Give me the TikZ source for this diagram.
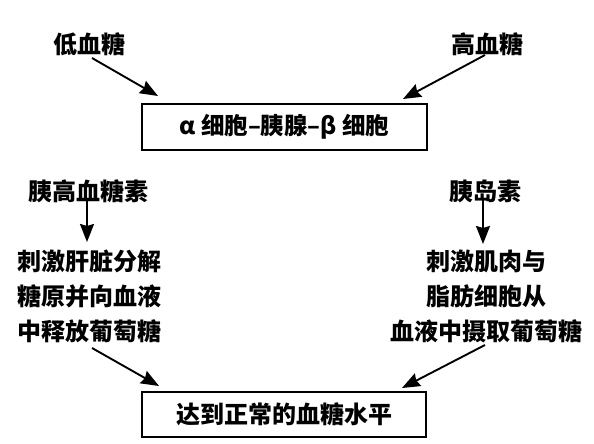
\documentclass[tikz,border=0pt]{standalone}
\usepackage{fontspec}
\setmainfont{Noto Sans CJK SC}
\usetikzlibrary{arrows.meta}
\begin{document}
\begin{tikzpicture}[x=1pt,y=-1pt,
  lbl/.style={inner sep=0pt, font=\fontsize{24}{35}\selectfont\bfseries},
  boxtxt/.style={draw, line width=1.8pt, inner sep=0pt},
  arr/.style={line width=1.9pt, -{Stealth[length=18pt,width=14pt,inset=2pt]}}]
\useasboundingbox (0,0) rectangle (594,444);
\fill[white] (0,0) rectangle (594,444);
\node[lbl] (lo) at (89.5,44) {低血糖};
\node[lbl] (hi) at (487.5,44) {高血糖};
\node[boxtxt, minimum width=285pt, minimum height=46pt, font=\fontsize{23.5}{26}\selectfont\bfseries] (cells) at (284.5,127) {α 细胞–胰腺–β 细胞};
\node[lbl] (gluc) at (88,191) {胰高血糖素};
\node[lbl] (ins) at (485,191) {胰岛素};
\node[lbl, align=center] (left) at (89.5,296) {刺激肝脏分解\\糖原并向血液\\中释放葡萄糖};
\node[lbl, align=center] (right) at (486,296) {刺激肌肉与\\脂肪细胞从\\血液中摄取葡萄糖};
\node[boxtxt, minimum width=284pt, minimum height=45pt, font=\fontsize{24}{28}\selectfont\bfseries] (norm) at (284,414.5) {达到正常的血糖水平};
\coordinate (a1s) at (92,58);  \coordinate (a1e) at (158,96);
\coordinate (a2s) at (485,55); \coordinate (a2e) at (403,99);
\coordinate (a3s) at (87,200); \coordinate (a3e) at (87,242);
\coordinate (a4s) at (483,200); \coordinate (a4e) at (483,244);
\coordinate (a5s) at (92,348); \coordinate (a5e) at (159,386);
\coordinate (a6s) at (485,345); \coordinate (a6e) at (402,388);
\draw[arr] (a1s) -- (a1e);
\draw[arr] (a2s) -- (a2e);
\draw[arr] (a3s) -- (a3e);
\draw[arr] (a4s) -- (a4e);
\draw[arr] (a5s) -- (a5e);
\draw[arr] (a6s) -- (a6e);
\end{tikzpicture}
\end{document}
